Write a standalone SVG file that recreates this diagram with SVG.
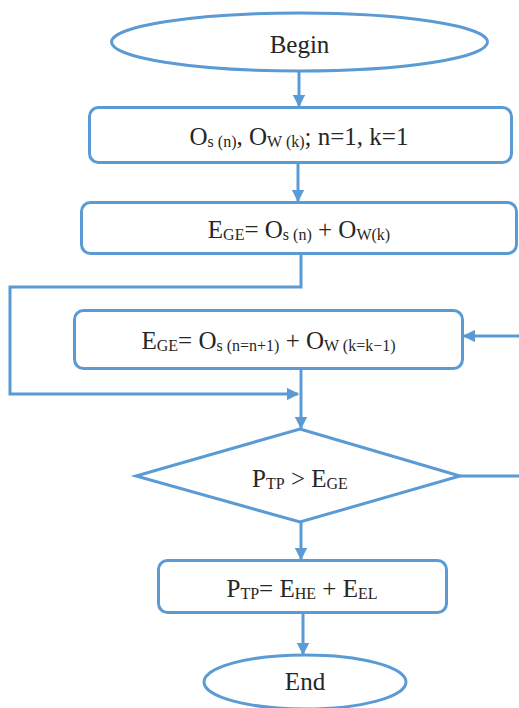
<svg xmlns="http://www.w3.org/2000/svg" width="519" height="708" viewBox="0 0 519 708">
<style>
.s{fill:#fff;stroke:#5B9BD5;stroke-width:3}
.c{fill:none;stroke:#5B9BD5;stroke-width:3}
.t{font-family:'Liberation Serif','DejaVu Serif',serif;font-size:25px;fill:#262626;text-anchor:middle}
.b{font-size:16px}
</style>
<defs>
<marker id="a" viewBox="0 0 10 10" refX="9" refY="5" markerWidth="4.2" markerHeight="4.2" orient="auto" markerUnits="strokeWidth">
<path d="M0,0 L10,5 L0,10 z" fill="#5B9BD5"/>
</marker>
</defs>
<g id="connectors">
<line class="c" x1="299" y1="71" x2="299" y2="106" marker-end="url(#a)"/>
<line class="c" x1="298" y1="163" x2="298" y2="201" marker-end="url(#a)"/>
<polyline class="c" points="301,254 301,287 10,287 10,394 298,394" marker-end="url(#a)"/>
<line class="c" x1="301" y1="369" x2="301" y2="428" marker-end="url(#a)"/>
<line class="c" x1="519" y1="336" x2="464" y2="336" marker-end="url(#a)"/>
<line class="c" x1="460" y1="476" x2="519" y2="476"/>
<line class="c" x1="301" y1="522" x2="301" y2="559" marker-end="url(#a)"/>
<line class="c" x1="303" y1="613" x2="303" y2="654" marker-end="url(#a)"/>
</g>
<g id="begin">
<ellipse class="s" cx="299.5" cy="42" rx="188" ry="29"/>
<text class="t" x="299.5" y="53">Begin</text>
</g>
<g id="init">
<rect class="s" x="89.5" y="107.5" width="422" height="55" rx="9"/>
<text class="t" x="299" y="145">O<tspan class="b" dy="2">s (n)</tspan><tspan dy="-2">, O</tspan><tspan class="b" dy="2">W (k)</tspan><tspan dy="-2">; n=1, k=1</tspan></text>
</g>
<g id="calc1">
<rect class="s" x="81.5" y="202.5" width="435" height="51" rx="9"/>
<text class="t" x="299" y="238">E<tspan class="b" dy="2">GE</tspan><tspan dy="-2">= O</tspan><tspan class="b" dy="2">s (n)</tspan><tspan dy="-2"> + O</tspan><tspan class="b" dy="2">W(k)</tspan></text>
</g>
<g id="calc2">
<rect class="s" x="74.5" y="310.5" width="388" height="58" rx="9"/>
<text class="t" x="268.5" y="349">E<tspan class="b" dy="2">GE</tspan><tspan dy="-2">= O</tspan><tspan class="b" dy="2">s (n=n+1)</tspan><tspan dy="-2"> + O</tspan><tspan class="b" dy="2">W (k=k−1)</tspan></text>
</g>
<g id="decision">
<polygon class="s" points="300,429 460,476 300,522 136,476"/>
<text class="t" x="300" y="487">P<tspan class="b" dy="2">TP</tspan><tspan dy="-2"> &gt; E</tspan><tspan class="b" dy="2">GE</tspan></text>
</g>
<g id="calc3">
<rect class="s" x="158.5" y="560.5" width="288" height="52" rx="9"/>
<text class="t" x="302" y="597">P<tspan class="b" dy="2">TP</tspan><tspan dy="-2">= E</tspan><tspan class="b" dy="2">HE</tspan><tspan dy="-2"> + E</tspan><tspan class="b" dy="2">EL</tspan></text>
</g>
<g id="end">
<ellipse class="s" cx="305" cy="682" rx="101" ry="27"/>
<text class="t" x="305" y="690">End</text>
</g>
</svg>
